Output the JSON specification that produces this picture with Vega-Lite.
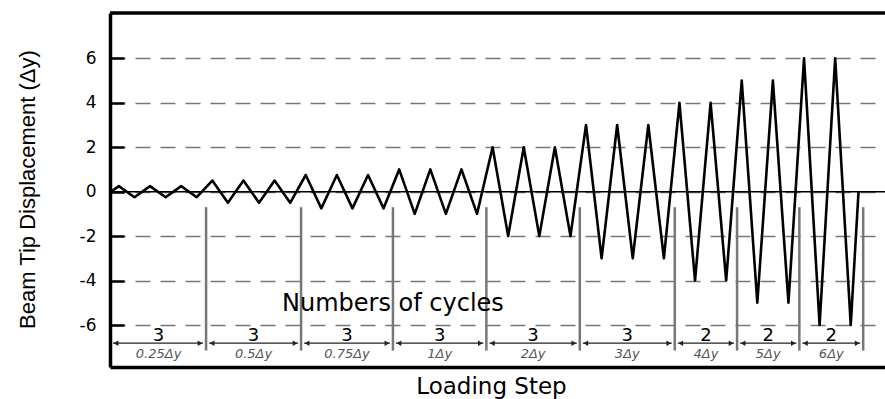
{
  "$schema": "https://vega.github.io/schema/vega-lite/v6.json",
  "width": 775,
  "height": 354,
  "autosize": "none",
  "padding": {"left": 110, "top": 13, "right": 0, "bottom": 32},
  "background": "white",
  "config": {"view": {"stroke": null}, "font": "DejaVu Sans"},
  "datasets": {
    "protocol": [
      {"step": -0.5, "disp": 0},
      {"step": 0, "disp": 0.25}, {"step": 1, "disp": -0.25},
      {"step": 2, "disp": 0.25}, {"step": 3, "disp": -0.25},
      {"step": 4, "disp": 0.25}, {"step": 5, "disp": -0.25},
      {"step": 6, "disp": 0.5}, {"step": 7, "disp": -0.5},
      {"step": 8, "disp": 0.5}, {"step": 9, "disp": -0.5},
      {"step": 10, "disp": 0.5}, {"step": 11, "disp": -0.5},
      {"step": 12, "disp": 0.75}, {"step": 13, "disp": -0.75},
      {"step": 14, "disp": 0.75}, {"step": 15, "disp": -0.75},
      {"step": 16, "disp": 0.75}, {"step": 17, "disp": -0.75},
      {"step": 18, "disp": 1}, {"step": 19, "disp": -1},
      {"step": 20, "disp": 1}, {"step": 21, "disp": -1},
      {"step": 22, "disp": 1}, {"step": 23, "disp": -1},
      {"step": 24, "disp": 2}, {"step": 25, "disp": -2},
      {"step": 26, "disp": 2}, {"step": 27, "disp": -2},
      {"step": 28, "disp": 2}, {"step": 29, "disp": -2},
      {"step": 30, "disp": 3}, {"step": 31, "disp": -3},
      {"step": 32, "disp": 3}, {"step": 33, "disp": -3},
      {"step": 34, "disp": 3}, {"step": 35, "disp": -3},
      {"step": 36, "disp": 4}, {"step": 37, "disp": -4},
      {"step": 38, "disp": 4}, {"step": 39, "disp": -4},
      {"step": 40, "disp": 5}, {"step": 41, "disp": -5},
      {"step": 42, "disp": 5}, {"step": 43, "disp": -5},
      {"step": 44, "disp": 6}, {"step": 45, "disp": -6},
      {"step": 46, "disp": 6}, {"step": 47, "disp": -6},
      {"step": 47.5, "disp": 0}
    ],
    "phases": [
      {"start": -0.57, "end": 5.6, "mid": 2.55, "cycles": "3", "label": "0.25Δy"},
      {"start": 5.6, "end": 11.7, "mid": 8.65, "cycles": "3", "label": "0.5Δy"},
      {"start": 11.7, "end": 17.6, "mid": 14.65, "cycles": "3", "label": "0.75Δy"},
      {"start": 17.6, "end": 23.6, "mid": 20.6, "cycles": "3", "label": "1Δy"},
      {"start": 23.6, "end": 29.6, "mid": 26.6, "cycles": "3", "label": "2Δy"},
      {"start": 29.6, "end": 35.7, "mid": 32.65, "cycles": "3", "label": "3Δy"},
      {"start": 35.7, "end": 39.7, "mid": 37.7, "cycles": "2", "label": "4Δy"},
      {"start": 39.7, "end": 43.7, "mid": 41.7, "cycles": "2", "label": "5Δy"},
      {"start": 43.7, "end": 47.8, "mid": 45.75, "cycles": "2", "label": "6Δy"}
    ]
  },
  "layer": [
    {
      "data": {"values": [{}]},
      "mark": {"type": "rule", "color": "black", "strokeWidth": 1.5},
      "encoding": {"y": {"datum": 0}}
    },
    {
      "data": {"values": [{}]},
      "mark": {"type": "rule", "color": "black", "strokeWidth": 3.5},
      "encoding": {"y": {"datum": 8.04}}
    },
    {
      "data": {"name": "phases"},
      "mark": {"type": "rule", "color": "#777777", "strokeWidth": 2.5},
      "encoding": {
        "x": {"field": "end", "type": "quantitative"},
        "y": {"datum": -0.7},
        "y2": {"datum": -7.15}
      }
    },
    {
      "data": {"name": "phases"},
      "mark": {"type": "rule", "color": "#222222", "strokeWidth": 1.3, "xOffset": 3, "x2Offset": -3},
      "encoding": {
        "x": {"field": "start", "type": "quantitative"},
        "x2": {"field": "end"},
        "y": {"datum": -6.82}
      }
    },
    {
      "data": {"name": "phases"},
      "mark": {"type": "point", "shape": "triangle-left", "filled": true, "color": "#222222", "size": 30, "opacity": 1, "xOffset": 6},
      "encoding": {
        "x": {"field": "start", "type": "quantitative"},
        "y": {"datum": -6.82}
      }
    },
    {
      "data": {"name": "phases"},
      "mark": {"type": "point", "shape": "triangle-right", "filled": true, "color": "#222222", "size": 30, "opacity": 1, "xOffset": -6},
      "encoding": {
        "x": {"field": "end", "type": "quantitative"},
        "y": {"datum": -6.82}
      }
    },
    {
      "data": {"name": "phases"},
      "mark": {"type": "text", "fontSize": 18, "font": "DejaVu Sans", "baseline": "alphabetic", "align": "center", "color": "black"},
      "encoding": {
        "x": {"field": "mid", "type": "quantitative"},
        "y": {"datum": -6.72},
        "text": {"field": "cycles"}
      }
    },
    {
      "data": {"name": "phases"},
      "mark": {"type": "text", "fontSize": 13, "font": "DejaVu Sans", "fontStyle": "italic", "baseline": "alphabetic", "align": "center", "color": "#555555"},
      "encoding": {
        "x": {"field": "mid", "type": "quantitative"},
        "y": {"datum": -7.5},
        "text": {"field": "label"}
      }
    },
    {
      "data": {"values": [{"note": "Numbers of cycles"}]},
      "mark": {"type": "text", "fontSize": 24, "font": "DejaVu Sans", "baseline": "alphabetic", "align": "center", "color": "black"},
      "encoding": {
        "x": {"datum": 17.6},
        "y": {"datum": -5.38},
        "text": {"field": "note"}
      }
    },
    {
      "data": {"name": "protocol"},
      "mark": {"type": "line", "color": "black", "strokeWidth": 2.6, "strokeJoin": "round"},
      "encoding": {
        "x": {"field": "step", "type": "quantitative", "scale": {"domain": [-0.57, 49.2], "nice": false, "zero": false},
          "axis": {"labels": false, "ticks": false, "grid": false, "domainColor": "black", "domainWidth": 3.5,
            "title": "Loading Step", "titleFont": "DejaVu Sans", "titleFontSize": 23, "titleFontWeight": "normal",
            "titleColor": "black", "titleX": 381, "titleY": 26, "titleBaseline": "alphabetic", "titleAlign": "center"}},
        "y": {"field": "disp", "type": "quantitative", "scale": {"domain": [-7.89, 8.04], "nice": false, "zero": false},
          "axis": {
            "values": [-6, -5, -4, -3, -2, -1, 0, 1, 2, 3, 4, 5, 6],
            "labelExpr": "datum.value % 2 === 0 ? '' + datum.value : ''",
            "labelFont": "DejaVu Sans", "labelFontSize": 17, "labelColor": "black", "labelPadding": 28,
            "tickSize": -14, "tickWidth": 2.5, "tickColor": "black",
            "domainColor": "black", "domainWidth": 3.5,
            "grid": true, "gridColor": "#777777", "gridDash": [15, 10], "gridWidth": 1.3,
            "gridOpacity": {"condition": {"test": "datum.value % 2 !== 0", "value": 0}, "value": 1},
            "title": "Beam Tip Displacement (Δy)", "titleFont": "Liberation Sans", "titleFontSize": 22,
            "titleFontWeight": "normal", "titleColor": "black",
            "titleX": -76, "titleY": 176, "titleAngle": -90, "titleAlign": "center", "titleBaseline": "alphabetic"
          }}
      }
    }
  ]
}
